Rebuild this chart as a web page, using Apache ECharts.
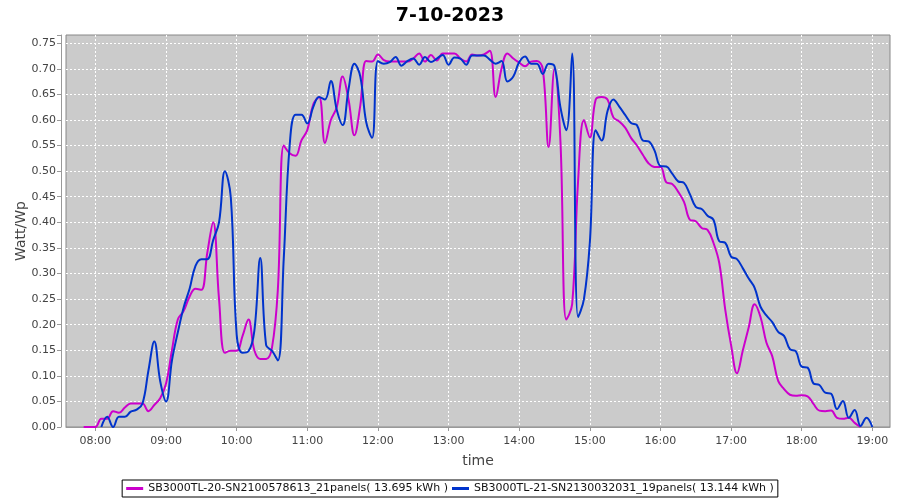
<!DOCTYPE html>
<html>
<head>
<meta charset="utf-8">
<script src="https://cdn.jsdelivr.net/npm/echarts@6/dist/echarts.min.js"></script>
<style>
  html, body { margin: 0; padding: 0; background: #fff; }
  #chart { width: 900px; height: 500px; }
</style>
</head>
<body>
<div id="chart"></div>
<script>
// x axis categories, 5 minute steps (07:35 .. 19:15)
const axisTimes = [
  '07:35', '07:40', '07:45', '07:50', '07:55',
  '08:00', '08:05', '08:10', '08:15', '08:20', '08:25', '08:30', '08:35', '08:40', '08:45', '08:50', '08:55',
  '09:00', '09:05', '09:10', '09:15', '09:20', '09:25', '09:30', '09:35', '09:40', '09:45', '09:50', '09:55',
  '10:00', '10:05', '10:10', '10:15', '10:20', '10:25', '10:30', '10:35', '10:40', '10:45', '10:50', '10:55',
  '11:00', '11:05', '11:10', '11:15', '11:20', '11:25', '11:30', '11:35', '11:40', '11:45', '11:50', '11:55',
  '12:00', '12:05', '12:10', '12:15', '12:20', '12:25', '12:30', '12:35', '12:40', '12:45', '12:50', '12:55',
  '13:00', '13:05', '13:10', '13:15', '13:20', '13:25', '13:30', '13:35', '13:40', '13:45', '13:50', '13:55',
  '14:00', '14:05', '14:10', '14:15', '14:20', '14:25', '14:30', '14:35', '14:40', '14:45', '14:50', '14:55',
  '15:00', '15:05', '15:10', '15:15', '15:20', '15:25', '15:30', '15:35', '15:40', '15:45', '15:50', '15:55',
  '16:00', '16:05', '16:10', '16:15', '16:20', '16:25', '16:30', '16:35', '16:40', '16:45', '16:50', '16:55',
  '17:00', '17:05', '17:10', '17:15', '17:20', '17:25', '17:30', '17:35', '17:40', '17:45', '17:50', '17:55',
  '18:00', '18:05', '18:10', '18:15', '18:20', '18:25', '18:30', '18:35', '18:40', '18:45', '18:50', '18:55',
  '19:00', '19:05', '19:10', '19:15'
]

// measurement times of both inverters (07:50 .. 19:00)
const sampleTimes = axisTimes.slice(3, 138)

// Watt/Wp, one value per sample time, null = no reading
const inverter20 = [
  0, 0,
  0, 0.016, 0.016, 0.031, 0.028, 0.038, 0.046, 0.046, 0.046, 0.031, 0.043, 0.056,
  0.085, 0.15, 0.21, 0.227, 0.255, 0.27, 0.268, 0.34, 0.40, 0.25, 0.145, 0.149,
  0.149, 0.178, 0.21, 0.15, 0.133, 0.133, 0.155, 0.27, 0.55, 0.535, 0.53, 0.56,
  0.58, 0.63, 0.645, 0.555, 0.60, 0.625, 0.685, 0.64, 0.57, 0.628, 0.715, 0.714,
  0.728, 0.717, 0.714, 0.714, 0.714, 0.714, 0.72, 0.73, 0.714, 0.727, 0.716, 0.73,
  0.73, 0.73, 0.72, 0.714, 0.728, 0.726, 0.728, 0.735, 0.645, 0.70, 0.73, 0.72,
  0.712, 0.705, 0.714, 0.715, 0.70, 0.547, 0.70, 0.56, 0.21, 0.24, 0.48, 0.60,
  0.566, 0.64, 0.645, 0.64, 0.605, 0.597, 0.585, 0.565, 0.55, 0.532, 0.515, 0.508,
  0.508, 0.478, 0.475, 0.46, 0.44, 0.405, 0.402, 0.389, 0.385, 0.36, 0.32, 0.23,
  0.16, 0.105, 0.15, 0.195, 0.24, 0.215, 0.165, 0.138, 0.09, 0.074, 0.063, 0.061,
  0.062, 0.06, 0.045, 0.032, 0.031, 0.032, 0.018, 0.016, 0.018, 0.008, 0, null,
  null
]

const inverter21 = [
  null, null,
  null, 0, 0.02, 0, 0.02, 0.02, 0.03, 0.034, 0.046, 0.11, 0.167, 0.09,
  0.05, 0.13, 0.185, 0.234, 0.27, 0.315, 0.328, 0.328, 0.365, 0.40, 0.50, 0.449,
  0.18, 0.145, 0.148, 0.188, 0.33, 0.16, 0.149, 0.13, 0.33, 0.55, 0.61, 0.61,
  0.593, 0.625, 0.645, 0.64, 0.676, 0.62, 0.59, 0.66, 0.71, 0.685, 0.596, 0.565,
  0.715, 0.71, 0.713, 0.723, 0.706, 0.715, 0.72, 0.708, 0.723, 0.713, 0.72, 0.727,
  0.708, 0.722, 0.72, 0.708, 0.726, 0.726, 0.726, 0.718, 0.71, 0.715, 0.675, 0.685,
  0.713, 0.724, 0.71, 0.71, 0.69, 0.71, 0.705, 0.625, 0.58, 0.73, 0.215, 0.25,
  0.36, 0.58, 0.56, 0.617, 0.64, 0.626, 0.61, 0.594, 0.59, 0.56, 0.558, 0.54,
  0.51, 0.509, 0.495, 0.48, 0.477, 0.455, 0.43, 0.426, 0.413, 0.405, 0.363, 0.36,
  0.333, 0.328, 0.31, 0.29, 0.272, 0.235, 0.218, 0.205, 0.186, 0.178, 0.152, 0.148,
  0.118, 0.116, 0.085, 0.082, 0.067, 0.065, 0.035, 0.051, 0.018, 0.033, 0.002, 0.018,
  0
]

const seriesNames = [
  'SB3000TL-20-SN2100578613_21panels( 13.695 kWh )',
  'SB3000TL-21-SN2130032031_19panels( 13.144 kWh )'
]
const seriesColors = ['#cc00cc', '#0033cc']

const toPairs = values => sampleTimes
  .map((t, i) => [t, values[i]])
  .filter(p => p[1] !== null)

const onTheHour = (index, value) => value.slice(3) === '00'

const chart = echarts.init(document.getElementById('chart'))

const option = {
  animation: false,
  textStyle: { fontFamily: 'DejaVu Sans' },
  title: {
    text: '7-10-2023',
    left: 'center',
    top: 2,
    textStyle: { fontSize: 19, fontWeight: 'bold', color: '#000', fontFamily: 'DejaVu Sans' }
  },
  legend: {
    data: seriesNames,
    bottom: 3,
    left: 'center',
    icon: 'rect',
    itemWidth: 17,
    itemHeight: 3,
    itemGap: 4,
    padding: [3, 4],
    borderColor: '#000',
    borderWidth: 1,
    textStyle: { fontSize: 11, color: '#111', fontFamily: 'DejaVu Sans' }
  },
  grid: {
    left: 66,
    right: 10,
    top: 35,
    bottom: 73,
    show: true,
    backgroundColor: '#cbcbcb',
    borderColor: '#888',
    borderWidth: 1
  },
  xAxis: {
    type: 'category',
    data: axisTimes,
    boundaryGap: false,
    offset: 4,
    name: 'time',
    nameLocation: 'middle',
    nameGap: 23,
    nameTextStyle: { fontSize: 14, color: '#444' },
    axisLine: { show: true, lineStyle: { color: '#999' } },
    axisTick: { interval: onTheHour, length: 4, lineStyle: { color: '#999' } },
    axisLabel: { interval: onTheHour, fontSize: 11, color: '#444', margin: 5 },
    splitLine: {
      show: true,
      interval: onTheHour,
      lineStyle: { color: '#ffffff', type: [2, 2], width: 1 }
    }
  },
  yAxis: {
    type: 'value',
    min: 0,
    max: 0.766,
    interval: 0.05,
    offset: 5,
    name: 'Watt/Wp',
    nameLocation: 'middle',
    nameGap: 33,
    nameMoveOverlap: false,
    nameTextStyle: { fontSize: 14, color: '#444' },
    axisLine: { show: true, lineStyle: { color: '#999' } },
    axisTick: { show: true, length: 4, lineStyle: { color: '#999' } },
    axisLabel: {
      fontSize: 11,
      color: '#444',
      margin: 5,
      formatter: v => (v > 0.76 ? '' : v.toFixed(2))
    },
    splitLine: {
      showMaxLine: false,
      lineStyle: { color: '#ffffff', type: [2, 2], width: 1 }
    }
  },
  series: [inverter20, inverter21].map((values, i) => ({
    name: seriesNames[i],
    type: 'line',
    data: toPairs(values),
    smooth: 0.4,
    showSymbol: false,
    lineStyle: { width: 2, color: seriesColors[i] },
    itemStyle: { color: seriesColors[i] }
  }))
}

chart.setOption(option)
</script>
</body>
</html>
